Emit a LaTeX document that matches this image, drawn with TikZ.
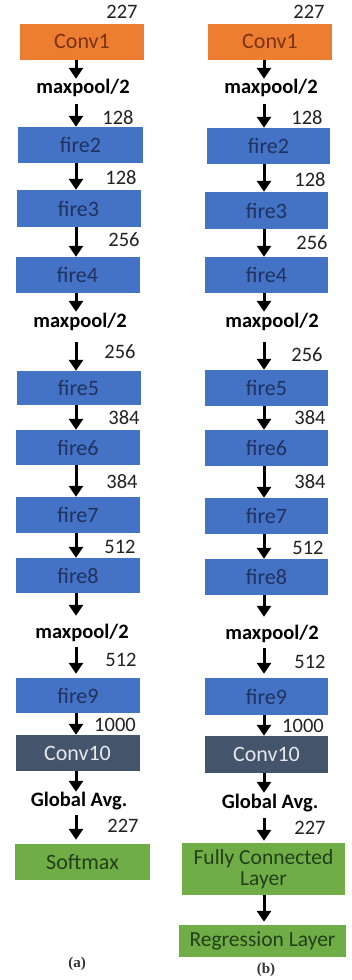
\documentclass[tikz,border=0pt]{standalone}
\usepackage{fontspec}
\setmainfont{Carlito}
\newfontfamily\capfont{Liberation Serif}
\usetikzlibrary{arrows.meta}

\definecolor{convfill}{HTML}{ED7D31}
\definecolor{convtext}{HTML}{7A3210}
\definecolor{firefill}{HTML}{4472C4}
\definecolor{firetext}{HTML}{1F3260}
\definecolor{slatefill}{HTML}{44546A}
\definecolor{slatetext}{HTML}{E6E8EC}
\definecolor{outfill}{HTML}{70AD47}
\definecolor{outtext}{HTML}{22401A}
\definecolor{numtext}{HTML}{222222}

\begin{document}
\begin{tikzpicture}[x=1pt,y=-1pt,
  box/.style={minimum height=36pt, minimum width=124pt, inner sep=0pt,
              font=\fontsize{22}{26}\selectfont},
  convbox/.style={box, fill=convfill, text=convtext},
  firebox/.style={box, fill=firefill, text=firetext},
  slatebox/.style={box, fill=slatefill, text=slatetext},
  outbox/.style={box, fill=outfill, text=outtext},
  num/.style={inner sep=0pt, font=\fontsize{20.5}{24}\selectfont, text=numtext},
  op/.style={inner sep=0pt, anchor=base, font=\bfseries\fontsize{20.5}{24}\selectfont, text=black},
  arr/.style={line width=3pt, -{Triangle[width=14pt,length=11pt]}},
  sublabel/.style={inner sep=0pt, font=\capfont\bfseries\fontsize{15}{17}\selectfont, text=black!80}
]
\useasboundingbox (0,0) rectangle (351,980);
\fill[white] (0,0) rectangle (351,980);

% ---------------- column (a) ----------------
\coordinate (ax) at (76,0);
\node[convbox] (aconv1) at (82,41.5) {Conv1};
\node[op, text height=14pt, text depth=11pt] (amp1) at (83,93) {maxpool/2};
\node[firebox, minimum width=125pt] (afire2) at (80.5,145) {fire2};
\node[firebox, minimum height=37pt] (afire3) at (78.5,208.5) {fire3};
\node[firebox] (afire4) at (77.5,275) {fire4};
\node[op, text height=15pt, text depth=15pt] (amp2) at (80,327) {maxpool/2};
\node[firebox, minimum height=34pt] (afire5) at (78.5,388) {fire5};
\node[firebox, minimum height=35pt] (afire6) at (78,447.5) {fire6};
\node[firebox] (afire7) at (78,515) {fire7};
\node[firebox, minimum height=35pt] (afire8) at (78,575.5) {fire8};
\node[op, text height=22pt, text depth=9pt] (amp3) at (82,638) {maxpool/2};
\node[firebox, minimum height=35pt] (afire9) at (78,695.5) {fire9};
\node[slatebox] (aconv10) at (77.5,753) {Conv10};
\node[op, text height=14pt, text depth=9pt] (agap) at (79,806) {Global Avg.};
\node[outbox, minimum width=135pt] (asoft) at (82.5,862) {Softmax};
\node[sublabel] (acap) at (77,964) {(a)};

\node[num] (an1) at (122,12) {227};
\node[num] (an2) at (118,118) {128};
\node[num] (an3) at (121,178) {128};
\node[num] (an4) at (124,240) {256};
\node[num] (an5) at (120,352) {256};
\node[num] (an6) at (124,418) {384};
\node[num] (an7) at (122,482) {384};
\node[num] (an8) at (120,547) {512};
\node[num] (an9) at (121,660) {512};
\node[num] (an10) at (115,725) {1000};
\node[num] (an11) at (123,826) {227};

\draw[arr] (aconv1.south -| ax) -- (amp1.north -| ax);
\draw[arr] (amp1.south -| ax) -- (afire2.north -| ax);
\draw[arr] (afire2.south -| ax) -- (afire3.north -| ax);
\draw[arr] (afire3.south -| ax) -- (afire4.north -| ax);
\draw[arr] (afire4.south -| ax) -- (amp2.north -| ax);
\draw[arr] (amp2.south -| ax) -- (afire5.north -| ax);
\draw[arr] (afire5.south -| ax) -- (afire6.north -| ax);
\draw[arr] (afire6.south -| ax) -- (afire7.north -| ax);
\draw[arr] (afire7.south -| ax) -- (afire8.north -| ax);
\draw[arr] (afire8.south -| ax) -- (amp3.north -| ax);
\draw[arr] (amp3.south -| ax) -- ([yshift=4pt]afire9.north -| ax);
\draw[arr] (afire9.south -| ax) -- (aconv10.north -| ax);
\draw[arr] (aconv10.south -| ax) -- (agap.north -| ax);
\draw[arr] (agap.south -| ax) -- ([yshift=4pt]asoft.north -| ax);

% ---------------- column (b) ----------------
\coordinate (bx) at (264,0);
\node[convbox] (bconv1) at (270,41.5) {Conv1};
\node[op, text height=14pt, text depth=11pt] (bmp1) at (271,93) {maxpool/2};
\node[firebox, minimum width=123pt] (bfire2) at (268.5,146) {fire2};
\node[firebox, minimum width=123pt, minimum height=37pt] (bfire3) at (266.5,210.5) {fire3};
\node[firebox, minimum width=123pt] (bfire4) at (266.5,275) {fire4};
\node[op, text height=15pt, text depth=15pt] (bmp2) at (272,327) {maxpool/2};
\node[firebox, minimum width=123pt] (bfire5) at (266.5,388) {fire5};
\node[firebox, minimum width=123pt] (bfire6) at (266.5,448) {fire6};
\node[firebox, minimum width=123pt] (bfire7) at (266.5,516) {fire7};
\node[firebox, minimum width=123pt] (bfire8) at (266.5,577) {fire8};
\node[op, text height=22pt, text depth=9pt] (bmp3) at (272,639) {maxpool/2};
\node[firebox, minimum width=123pt, minimum height=37pt] (bfire9) at (266.5,696.5) {fire9};
\node[slatebox, minimum width=123pt, minimum height=37pt] (bconv10) at (266.5,754.5) {Conv10};
\node[op, text height=15pt, text depth=10pt] (bgap) at (270,808) {Global Avg.};
\node[outbox, minimum width=163pt, minimum height=52pt, align=center,
      font=\fontsize{21.5}{21}\selectfont] (bfc) at (263.5,869) {Fully Connected\\Layer};
\node[outbox, minimum width=167pt, minimum height=32pt, font=\fontsize{21.5}{25}\selectfont] (breg) at (262.5,941) {Regression Layer};
\node[sublabel] (bcap) at (266,970) {(b)};

\node[num] (bn1) at (309,12) {227};
\node[num] (bn2) at (307,118) {128};
\node[num] (bn3) at (310,180) {128};
\node[num] (bn4) at (312,243) {256};
\node[num] (bn5) at (307,355) {256};
\node[num] (bn6) at (310,418) {384};
\node[num] (bn7) at (310,482) {384};
\node[num] (bn8) at (308,548) {512};
\node[num] (bn9) at (310,662) {512};
\node[num] (bn10) at (303,726) {1000};
\node[num] (bn11) at (310,828) {227};

\draw[arr] (bconv1.south -| bx) -- (bmp1.north -| bx);
\draw[arr] (bmp1.south -| bx) -- (bfire2.north -| bx);
\draw[arr] (bfire2.south -| bx) -- (bfire3.north -| bx);
\draw[arr] (bfire3.south -| bx) -- (bfire4.north -| bx);
\draw[arr] (bfire4.south -| bx) -- (bmp2.north -| bx);
\draw[arr] (bmp2.south -| bx) -- (bfire5.north -| bx);
\draw[arr] (bfire5.south -| bx) -- (bfire6.north -| bx);
\draw[arr] (bfire6.south -| bx) -- (bfire7.north -| bx);
\draw[arr] (bfire7.south -| bx) -- (bfire8.north -| bx);
\draw[arr] (bfire8.south -| bx) -- (bmp3.north -| bx);
\draw[arr] (bmp3.south -| bx) -- ([yshift=4pt]bfire9.north -| bx);
\draw[arr] (bfire9.south -| bx) -- (bconv10.north -| bx);
\draw[arr] (bconv10.south -| bx) -- (bgap.north -| bx);
\draw[arr] (bgap.south -| bx) -- ([yshift=2pt]bfc.north -| bx);
\draw[arr] (bfc.south -| bx) -- ([yshift=3pt]breg.north -| bx);
\end{tikzpicture}
\end{document}
